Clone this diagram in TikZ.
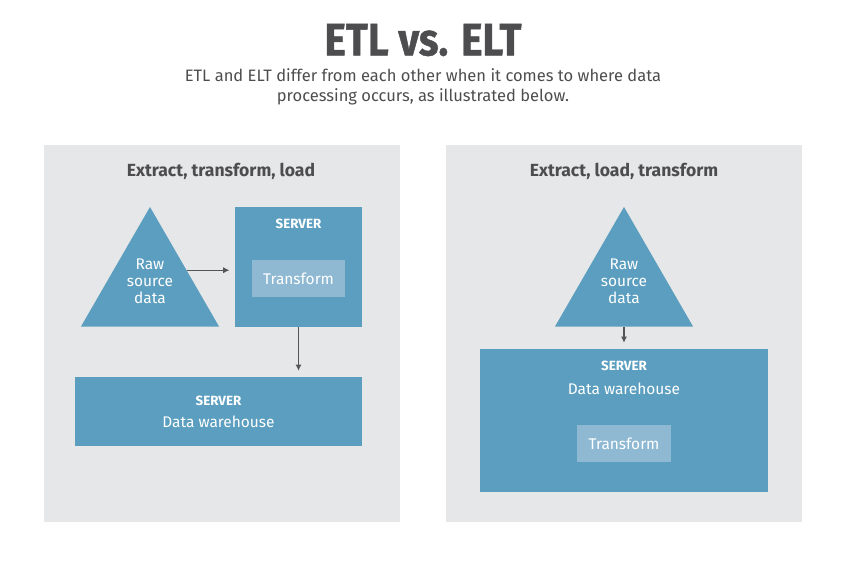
\documentclass[tikz,border=0pt]{standalone}
\usepackage{fontspec}
\setmainfont{Fira Sans}
\newfontfamily\headfont{Fira Sans}[BoldFeatures={FakeStretch=0.89,FakeBold=1}]
\usetikzlibrary{arrows.meta,calc,positioning,shapes.geometric}

\definecolor{panelgray}{HTML}{E6E7E8}
\definecolor{srvblue}{HTML}{5B9EBF}
\definecolor{tfblue}{HTML}{8FB9D3}
\definecolor{inkgray}{HTML}{4D4D4F}
\definecolor{arrgray}{HTML}{555555}

\tikzset{
  panel/.style={fill=panelgray, minimum width=7.12cm, minimum height=7.54cm, inner sep=0},
  paneltitle/.style={font=\fontsize{10}{12}\selectfont\bfseries, text=inkgray, inner sep=0},
  server/.style={fill=srvblue, inner sep=0},
  rawdata/.style={regular polygon, regular polygon sides=3, fill=srvblue,
    minimum size=3.19cm, inner sep=0,
    label={[text=white, align=center, inner sep=0, yshift=2.9pt,
      font=\fontsize{8.8}{9.6}\selectfont]center:Raw\\source\\data}},
  tfbox/.style={fill=tfblue, minimum width=1.86cm, minimum height=0.74cm,
    inner sep=0, text=white, font=\fontsize{8.8}{10}\selectfont},
  srvlbl/.style={text=white, inner sep=0, font=\fontsize{7.6}{9}\selectfont\bfseries},
  dwlbl/.style={text=white, inner sep=0, font=\fontsize{8.8}{10}\selectfont},
  arr/.style={draw=arrgray, line width=0.6pt, -{Latex[length=3.5pt,width=3.5pt]}}
}

\begin{document}
\begin{tikzpicture}[x=0.02cm, y=-0.02cm]
  \useasboundingbox (0,0) rectangle (847,569);

  % heading
  \node[inner sep=0, text=inkgray, font=\headfont\fontsize{26}{30}\selectfont\bfseries]
    (title) at (423,40) {ETL vs. ELT};
  \node[inner sep=0, text=inkgray, align=center, font=\fontsize{9.4}{11.3}\selectfont]
    (subtitle) at (423,87)
    {ETL and ELT differ from each other when it comes to where data\\
     processing occurs, as illustrated below.};

  % left panel: ETL
  \node[panel] (etl) at (222,333.5) {};
  \node[paneltitle] (etltitle) at (221,171) {Extract, transform, load};
  \node[rawdata] (rawl) at (150,286.7) {};
  \node[server, minimum width=2.54cm, minimum height=2.4cm]
    (srvl) at (298.5,267) {};
  \node[srvlbl] (srvltxt) at (298.5,224) {SERVER};
  \node[tfbox] (tfl) at (298.5,278.5) {Transform};
  \node[server, minimum width=5.74cm, minimum height=1.38cm]
    (dwl) at (218.5,411.5) {};
  \node[srvlbl] (dwlsrv) at (218.5,401) {SERVER};
  \node[dwlbl] (dwltxt) at (218.5,422) {Data warehouse};

  \coordinate (rawlout) at ($(rawl.corner 1)!0.53!(rawl.corner 3)$);
  \draw[arr, shorten >=3pt] (rawlout) -- (rawlout -| srvl.west);
  \draw[arr, shorten >=3.4pt] (srvl.south) -- (srvl.south |- dwl.north);

  % right panel: ELT
  \node[panel] (elt) at (624,333.5) {};
  \node[paneltitle] (elttitle) at (624,171) {Extract, load, transform};
  \node[rawdata] (rawr) at (624,286.7) {};
  \node[server, minimum width=5.76cm, minimum height=2.86cm]
    (srvr) at (624,420.5) {};
  \node[srvlbl] (srvrtxt) at (624,366) {SERVER};
  \node[dwlbl] (dwrtxt) at (624,389) {Data warehouse};
  \node[tfbox, minimum width=1.88cm] (tfr) at (624,443.5) {Transform};

  \draw[arr, shorten >=3.4pt] (rawr.south) -- (rawr.south |- srvr.north);
\end{tikzpicture}
\end{document}
